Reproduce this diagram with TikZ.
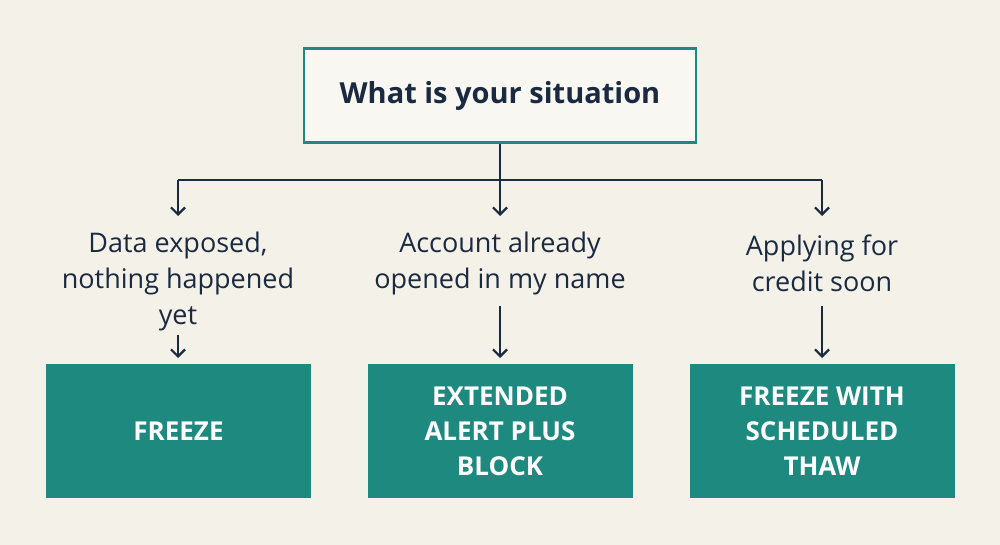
\documentclass[tikz,border=0pt]{standalone}
\usepackage{fontspec}
\setmainfont{Open Sans}
\usetikzlibrary{arrows.meta}
\definecolor{bg}{HTML}{F4F1E9}
\definecolor{ink}{HTML}{1A2A40}
\definecolor{teal}{HTML}{1E8A7F}
\begin{document}
\begin{tikzpicture}[x=1pt,y=-1pt,
  conn/.style={draw=ink,line width=2.2pt},
  arr/.style={conn,-{Straight Barb[length=7pt,width=14pt,line width=2.2pt]}},
  lab/.style={text=ink,font=\fontsize{27}{36}\selectfont,align=center},
  res/.style={fill=teal,text=white,font=\fontsize{26}{35}\selectfont\bfseries,align=center,minimum width=265pt,minimum height=134pt,inner sep=0pt}]
\fill[bg] (0,0) rectangle (1000,545);
\useasboundingbox (0,0) rectangle (1000,545);
\node[draw=teal,line width=2.5pt,fill=white!40!bg,minimum width=392pt,minimum height=94pt,text=ink,font=\fontsize{29}{32}\selectfont\bfseries] (q) at (500,95.5) {What is your situation};
\coordinate (j) at (500,180);
\coordinate (l) at (178,180);
\coordinate (r) at (822,180);
\node[lab] (a) at (178,281) {Data exposed,\\nothing happened\\yet};
\node[lab] (b) at (500,263) {Account already\\opened in my name};
\node[lab] (c) at (822,263) {Applying for\\credit soon};
\node[res] (A) at (178.5,431) {FREEZE};
\node[res] (B) at (500,431) {EXTENDED\\ALERT PLUS\\BLOCK};
\node[res] (C) at (822,431) {FREEZE WITH\\SCHEDULED\\THAW};
\draw[conn] (q.south) -- (j);
\draw[conn] (l) -- (r);
\draw[arr] (l) -- (178,216);
\draw[arr] (j) -- (500,216);
\draw[arr] (r) -- (822,216);
\draw[arr] (178,335) -- (178,358);
\draw[arr] (500,306) -- (500,358);
\draw[arr] (822,306) -- (822,358);
\end{tikzpicture}
\end{document}
